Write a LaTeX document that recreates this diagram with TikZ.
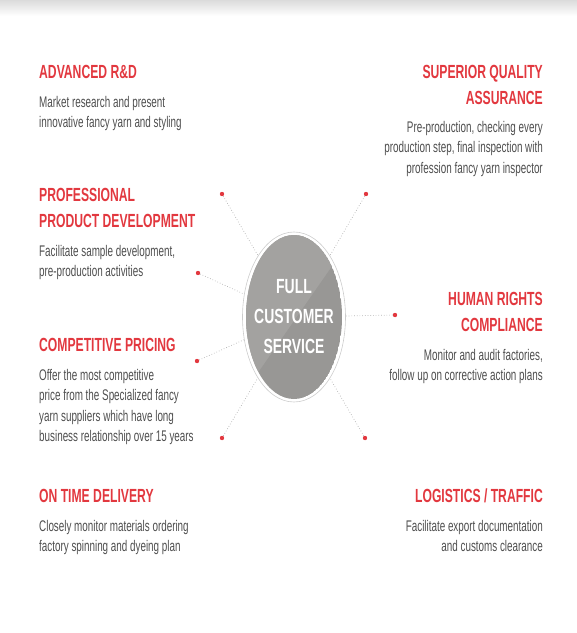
\documentclass[tikz,border=0pt]{standalone}
\usepackage{fontspec}
\setmainfont[FakeStretch=0.68]{Liberation Sans}
\newfontfamily\narrowfont[FakeStretch=0.64]{Liberation Sans}
\usepackage{tikz}
\usetikzlibrary{shapes.geometric}

\definecolor{brandred}{HTML}{E2383F}
\definecolor{bodygray}{HTML}{4E4E4E}
\definecolor{hubgray}{HTML}{A3A2A0}
\definecolor{hubdark}{HTML}{989795}

\tikzset{
  heading/.style={inner sep=0pt, text=brandred, font=\narrowfont\bfseries\fontsize{19}{26}\selectfont},
  blurb/.style={inner sep=0pt, text=bodygray, font=\narrowfont\fontsize{15.4}{20.5}\selectfont},
  reddot/.style={circle, fill=brandred, inner sep=0pt, minimum size=4.4pt},
  spoke/.style={draw=gray!60, dotted, line width=0.7pt},
  hubring/.style={ellipse, draw=gray!40, line width=0.6pt, inner sep=0pt,
    minimum width=103pt, minimum height=170pt},
}

\begin{document}
\begin{tikzpicture}[x=1pt,y=-1pt]
  \useasboundingbox (0,0) rectangle (577,633);
  \shade[top color=black!14, bottom color=white] (0,0) rectangle (577,16);

  % centre disc
  \begin{scope}
    \clip (294,317) ellipse (48 and 82);
    \fill[hubdark] (294,317) ellipse (48 and 82);
    \fill[hubgray] (220,220) -- (364,220) -- (225,420) -- (220,420) -- cycle;
  \end{scope}
  \node[hubring] (hub) at (294,317) {};
  \node[text=white, align=center, font=\bfseries\fontsize{20.5}{30}\selectfont]
    (hubtext) at (hub.center) {FULL\\CUSTOMER\\SERVICE};

  % dots and spokes
  \node[reddot] (d1) at (222,194) {};
  \node[reddot] (d2) at (366,194) {};
  \node[reddot] (d3) at (198,273) {};
  \node[reddot] (d4) at (395,315) {};
  \node[reddot] (d5) at (197,361) {};
  \node[reddot] (d6) at (222,438) {};
  \node[reddot] (d7) at (365,438) {};
  \foreach \i in {1,...,7}
    \draw[spoke] (d\i) -- (hub);

  % left column
  \node[heading, anchor=north west, align=left] (rnd) at (39,65) {ADVANCED R\&D};
  \node[blurb, anchor=north west, align=left] (rndtxt) at (39,96)
    {Market research and present\\innovative fancy yarn and styling};

  \node[heading, anchor=north west, align=left] (dev) at (39,188)
    {PROFESSIONAL\\PRODUCT DEVELOPMENT};
  \node[blurb, anchor=north west, align=left] (devtxt) at (39,245)
    {Facilitate sample development,\\pre-production activities};

  \node[heading, anchor=north west, align=left] (price) at (39,338) {COMPETITIVE PRICING};
  \node[blurb, anchor=north west, align=left] (pricetxt) at (39,369)
    {Offer the most competitive\\price from the Specialized fancy\\yarn suppliers which have long\\business relationship over 15 years};

  \node[heading, anchor=north west, align=left] (otd) at (39,489) {ON TIME DELIVERY};
  \node[blurb, anchor=north west, align=left] (otdtxt) at (39,520)
    {Closely monitor materials ordering\\factory spinning and dyeing plan};

  % right column
  \node[heading, anchor=north east, align=right] (qa) at (543,65)
    {SUPERIOR QUALITY\\ASSURANCE};
  \node[blurb, anchor=north east, align=right] (qatxt) at (543,121)
    {Pre-production, checking every\\production step, final inspection with\\profession fancy yarn inspector};

  \node[heading, anchor=north east, align=right] (rights) at (543,292)
    {HUMAN RIGHTS\\COMPLIANCE};
  \node[blurb, anchor=north east, align=right] (rightstxt) at (543,349)
    {Monitor and audit factories,\\follow up on corrective action plans};

  \node[heading, anchor=north east, align=right] (logi) at (543,489) {LOGISTICS / TRAFFIC};
  \node[blurb, anchor=north east, align=right] (logitxt) at (543,520)
    {Facilitate export documentation\\and customs clearance};
\end{tikzpicture}
\end{document}
